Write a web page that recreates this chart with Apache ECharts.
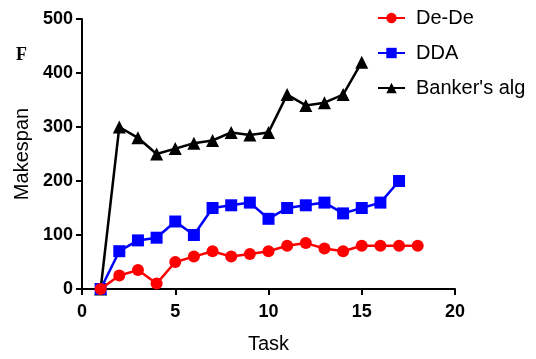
<!DOCTYPE html>
<html><head><meta charset="utf-8">
<script src="https://cdn.jsdelivr.net/npm/echarts@6/dist/echarts.min.js"></script>
<style>html,body{margin:0;padding:0;background:#fff}#c{width:536px;height:359px}</style>
</head><body><div id="c"></div>
<script>
const tasksDeDe = [1,2,3,4,5,6,7,8,9,10,11,12,13,14,15,16,17,18];
const deDe = [0,25,35,10,50,60,70,60,65,70,80,85,75,70,80,80,80,80];
const tasksDDA = [1,2,3,4,5,6,7,8,9,10,11,12,13,14,15,16,17];
const dda = [0,70,90,95,125,100,150,155,160,130,150,155,160,140,150,160,200];
const tasksBanker = [1,2,3,4,5,6,7,8,9,10,11,12,13,14,15];
const banker = [0,300,280,250,260,270,275,290,285,290,360,340,345,360,420];
const seriesNames = ['De-De','DDA',"Banker's alg"];

const pairs = (xs, ys) => xs.map((x,i)=>[x, ys[i]]);
const chart = echarts.init(document.getElementById('c'));
const lab = {fontFamily:'Liberation Sans, Arial', fontWeight:'bold', fontSize:18, color:'#000'};
chart.setOption({
  animation:false,
  grid:{left:82, top:19, right:81, bottom:67},
  legend:{
    orient:'vertical', left:372, top:3, itemWidth:27, itemHeight:13, itemGap:15,
    textStyle:{fontFamily:'Liberation Sans, Arial', fontSize:20, color:'#000', padding:[0,0,0,6]},
    data:seriesNames
  },
  graphic:[{type:'text', left:16, top:46, style:{text:'F', font:'bold 18px "Liberation Serif", serif', fill:'#000'}}],
  xAxis:{
    type:'value', min:0, max:20, interval:5,
    name:'Task', nameLocation:'middle', nameGap:45,
    nameTextStyle:{fontFamily:'Liberation Sans, Arial', fontSize:20, color:'#000'},
    axisLine:{lineStyle:{color:'#000', width:2}},
    axisTick:{show:true, length:6, lineStyle:{color:'#000', width:2}},
    axisLabel:Object.assign({margin:14}, lab),
    splitLine:{show:false}
  },
  yAxis:{
    type:'value', min:0, max:500, interval:100,
    name:'Makespan', nameLocation:'middle', nameGap:46,
    nameTextStyle:{fontFamily:'Liberation Sans, Arial', fontSize:20, color:'#000'},
    axisLine:{show:true, lineStyle:{color:'#000', width:2}},
    axisTick:{show:true, length:6, lineStyle:{color:'#000', width:2}},
    axisLabel:Object.assign({margin:9}, lab),
    splitLine:{show:false}
  },
  series:[
    {name:seriesNames[0], type:'line', data:pairs(tasksDeDe, deDe), symbol:'circle', symbolSize:12,
     lineStyle:{color:'#ff0000', width:2.5}, itemStyle:{color:'#ff0000'}, z:5},
    {name:seriesNames[1], type:'line', data:pairs(tasksDDA, dda), symbol:'rect', symbolSize:12,
     lineStyle:{color:'#0000ff', width:2.5}, itemStyle:{color:'#0000ff'}, z:4},
    {name:seriesNames[2], type:'line', data:pairs(tasksBanker, banker), symbol:'triangle', symbolSize:13,
     lineStyle:{color:'#000', width:2.5}, itemStyle:{color:'#000'}, z:3}
  ]
});
</script></body></html>
